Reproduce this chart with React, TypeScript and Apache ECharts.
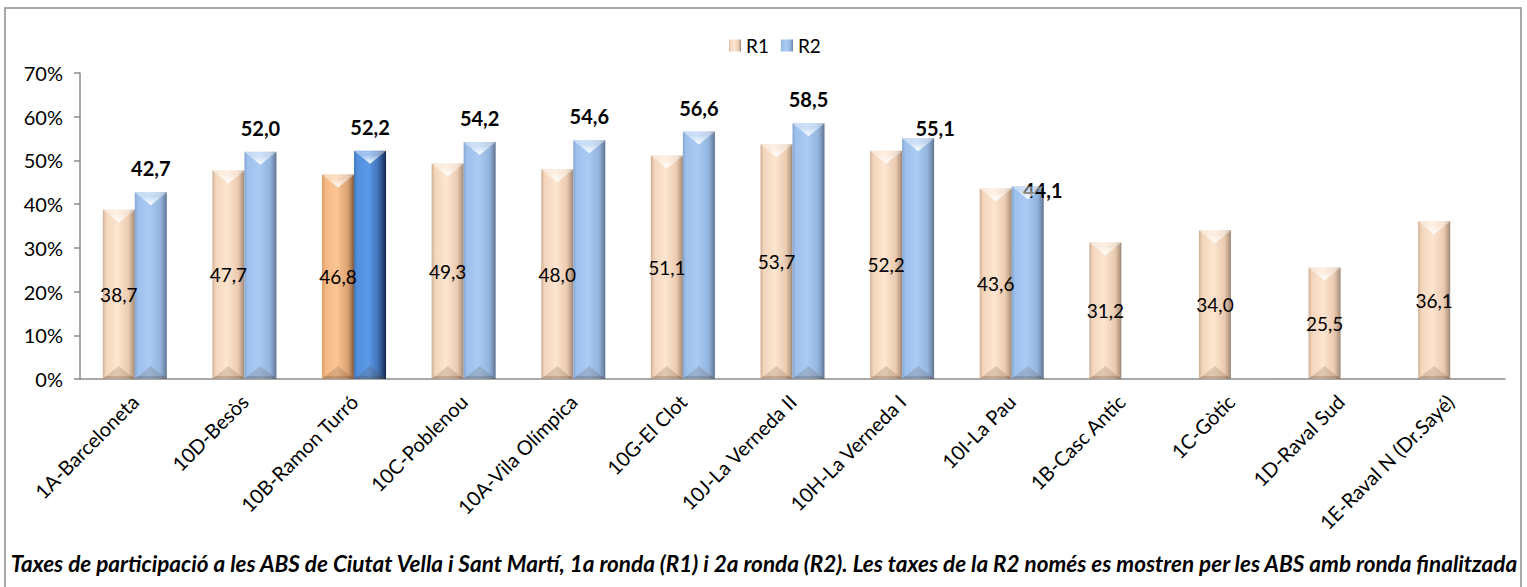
import React, { useEffect, useRef } from "react";
import * as echarts from "echarts";

const categories = [
  "1A-Barceloneta",
  "10D-Besòs",
  "10B-Ramon Turró",
  "10C-Poblenou",
  "10A-Vila Olímpica",
  "10G-El Clot",
  "10J-La Verneda II",
  "10H-La Verneda I",
  "10I-La Pau",
  "1B-Casc Antic",
  "1C-Gòtic",
  "1D-Raval Sud",
  "1E-Raval N (Dr.Sayé)",
];
const r1Values = [38.7, 47.7, 46.8, 49.3, 48.0, 51.1, 53.7, 52.2, 43.6, 31.2, 34.0, 25.5, 36.1];
const r2Values: (number | null)[] = [42.7, 52.0, 52.2, 54.2, 54.6, 56.6, 58.5, 55.1, 44.1, null, null, null, null];
const yTicks = [0, 10, 20, 30, 40, 50, 60, 70];
const highlightIndex = 2;
const titleText =
  "Taxes de participació a les ABS de Ciutat Vella i Sant Martí, 1a ronda (R1) i 2a ronda (R2). Les taxes de la R2 només es mostren per les ABS amb ronda finalitzada";

const FONT = "Lato, 'Open Sans', sans-serif";
const BAR_W = 32;

const grad = (stops: [number, string][]) =>
  new echarts.graphic.LinearGradient(0, 0, 1, 0, stops.map(([offset, color]) => ({ offset, color })));

const r1Color = () =>
  grad([
    [0, "#CFAE93"],
    [0.1, "#F3D5BB"],
    [0.45, "#FDE5D0"],
    [0.8, "#EBCBB0"],
    [0.92, "#C2A58E"],
    [1, "#9A8575"],
  ]);
const r2Color = () =>
  grad([
    [0, "#86A6D0"],
    [0.1, "#9DC0EC"],
    [0.45, "#A9CBF4"],
    [0.8, "#93B4DD"],
    [0.92, "#7891B3"],
    [1, "#5D7190"],
  ]);
const r1Hi = () =>
  grad([
    [0, "#D9975F"],
    [0.1, "#F4B783"],
    [0.45, "#FBC594"],
    [0.8, "#DCA272"],
    [0.92, "#A97A55"],
    [1, "#7E5A3E"],
  ]);
const r2Hi = () =>
  grad([
    [0, "#3E74BA"],
    [0.1, "#5290DE"],
    [0.45, "#5C9AE8"],
    [0.75, "#3F73B8"],
    [0.9, "#26487A"],
    [1, "#142848"],
  ]);

const fmt = (v: number) => v.toFixed(1).replace(".", ",");

export default function App() {
  const ref = useRef<HTMLDivElement>(null);
  useEffect(() => {
    document.body.style.margin = "0";
    if (!ref.current) return;
    const chart = echarts.init(ref.current, undefined, { renderer: "svg" });

    const r1Data = r1Values.map((v, i) =>
      i === highlightIndex ? { value: v, itemStyle: { color: r1Hi() } } : { value: v }
    );
    const r2Data = r2Values.map((v, i) => {
      if (v == null) return { value: null };
      const item: any = { value: v };
      if (i === highlightIndex) item.itemStyle = { color: r2Hi() };
      if (i === 7) item.label = { offset: [17, 14] };
      if (i === 8) item.label = { offset: [15, 28] };
      return item;
    });

    const bevelData: any[] = [];
    r1Values.forEach((v, i) => bevelData.push([i, v, -1]));
    r2Values.forEach((v, i) => {
      if (v != null) bevelData.push([i, v, 1]);
    });

    chart.setOption({
      animation: false,
      textStyle: { fontFamily: FONT },
      legend: {
        top: 31,
        left: 724,
        itemWidth: 12,
        itemHeight: 12,
        itemGap: 12,
        icon: "rect",
        textStyle: { fontSize: 19, color: "#000", fontFamily: FONT, padding: [0, 0, 0, 0] },
        data: ["R1", "R2"],
      },
      grid: { left: 80, right: 22, top: 73, bottom: 208 },
      xAxis: {
        type: "category",
        data: categories,
        axisLine: { lineStyle: { color: "#8C8C8C", width: 1.5 } },
        axisTick: { alignWithLabel: false, length: 6, lineStyle: { color: "#8C8C8C", width: 1.5 } },
        axisLabel: { rotate: 45, fontSize: 20, color: "#000", margin: 19, interval: 0, fontFamily: FONT },
      },
      yAxis: {
        type: "value",
        min: 0,
        max: 70,
        interval: 10,
        splitLine: { show: false },
        axisLine: { show: true, lineStyle: { color: "#8C8C8C", width: 1.5 } },
        axisTick: { show: true, inside: false, length: 6, lineStyle: { color: "#8C8C8C", width: 1.5 } },
        axisLabel: {
          fontSize: 20,
          color: "#000",
          margin: 17,
          fontFamily: FONT,
          formatter: (v: number) => (yTicks.includes(v) ? `${v}%` : ""),
        },
      },
      graphic: [
        {
          type: "rect",
          shape: { x: 5, y: 8, width: 1516, height: 600 },
          style: { fill: "none", stroke: "#8C8C8C", lineWidth: 1.5 },
          silent: true,
        },
        {
          type: "text",
          x: 764,
          y: 563,
          style: {
            text: titleText,
            fontSize: 22.5,
            fontWeight: "bold",
            fontStyle: "italic",
            fontFamily: FONT,
            fill: "#000",
            align: "center",
            verticalAlign: "middle",
          },
        },
      ],
      series: [
        {
          name: "R1",
          type: "bar",
          barWidth: BAR_W,
          barGap: "0%",
          itemStyle: { color: r1Color() },
          label: {
            show: true,
            position: "inside",
            fontSize: 19,
            color: "#000",
            fontFamily: FONT,
            formatter: (p: any) => fmt(p.value),
          },
          data: r1Data,
        },
        {
          name: "R2",
          type: "bar",
          barWidth: BAR_W,
          barGap: "0%",
          itemStyle: { color: r2Color() },
          label: {
            show: true,
            position: "top",
            distance: 14,
            fontSize: 20,
            fontWeight: "bold",
            color: "#000",
            fontFamily: FONT,
            formatter: (p: any) => (p.value == null ? "" : fmt(p.value)),
          },
          data: r2Data,
        },
        {
          type: "custom",
          silent: true,
          z: 3,
          data: bevelData,
          renderItem: (params: any, api: any) => {
            const idx = api.value(0);
            const val = api.value(1);
            const side = api.value(2);
            const top = api.coord([idx, val]);
            const base = api.coord([idx, 0]);
            const cx = top[0] + (side * BAR_W) / 2;
            const l = cx - BAR_W / 2;
            const r = cx + BAR_W / 2;
            const t = top[1];
            const b = base[1];
            const d = 13;
            return {
              type: "group",
              children: [
                {
                  type: "polygon",
                  shape: { points: [[l, t], [r, t], [cx, t + d]] },
                  style: {
                    fill: new echarts.graphic.LinearGradient(0, 1, 0, 0, [
                      { offset: 0, color: "rgba(255,255,255,0.95)" },
                      { offset: 1, color: "rgba(255,255,255,0.15)" },
                    ]),
                  },
                },
                {
                  type: "polygon",
                  shape: { points: [[l, t], [l + 3, t + 3], [r - 3, t + 3], [r, t]] },
                  style: { fill: "rgba(255,255,255,0.25)" },
                },
                {
                  type: "polygon",
                  shape: { points: [[l, b], [r, b], [cx, b - d]] },
                  style: { fill: "rgba(90,60,40,0.18)" },
                },
                {
                  type: "polygon",
                  shape: { points: [[l + 3, b - 3], [r - 3, b - 3], [r, b], [l, b]] },
                  style: { fill: "rgba(80,60,50,0.2)" },
                },
              ],
            };
          },
        },
      ],
    });
    return () => chart.dispose();
  }, []);
  return <div ref={ref} style={{ width: 1527, height: 587 }} />;
}
